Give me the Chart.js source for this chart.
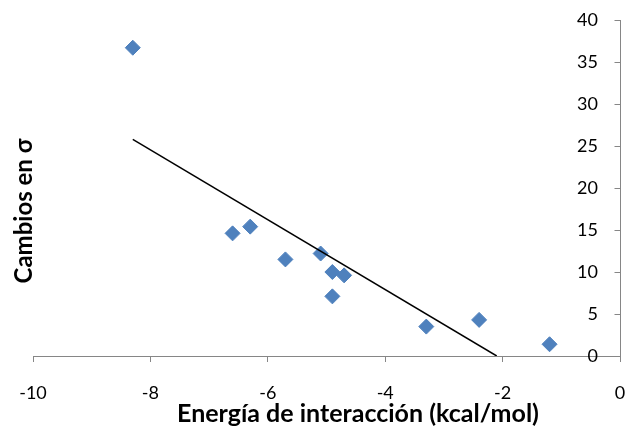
<!DOCTYPE html>
<html>
<head>
<meta charset="utf-8">
<script src="https://cdn.jsdelivr.net/npm/chart.js@4/dist/chart.umd.min.js"></script>
<style>
html,body{margin:0;padding:0;background:#fff;}
canvas{display:block;}
</style>
</head>
<body>
<canvas id="c" width="629" height="427"></canvas>
<script>
// Data
const energia = [-8.3, -6.6, -6.3, -5.7, -5.1, -4.9, -4.7, -4.9, -3.3, -2.4, -1.2];
const cambios = [36.7, 14.6, 15.4, 11.5, 12.2, 10.0, 9.6, 7.1, 3.5, 4.3, 1.4];
const trendX = [-8.3, -2.1];
const trendY = [25.8, 0];
const xTicks = [-10, -8, -6, -4, -2, 0];
const yTicks = [0, 5, 10, 15, 20, 25, 30, 35, 40];
const xTitle = 'Energía de interacción (kcal/mol)';
const yTitle = 'Cambios en σ';

const axisGray = '#868686';
const FONT = 'Lato, "Open Sans", sans-serif';

const decor = {
  id: 'decor',
  afterDraw(chart) {
    const ctx = chart.ctx;
    const y = chart.scales.y;
    const x = chart.scales.x;
    ctx.save();
    // inward tick marks on the right-hand y axis
    ctx.strokeStyle = axisGray;
    ctx.lineWidth = 1;
    const ax = Math.round(x.getPixelForValue(0)) + 0.5;
    yTicks.forEach(v => {
      const py = Math.round(y.getPixelForValue(v)) + 0.5;
      ctx.beginPath();
      ctx.moveTo(ax - 6, py);
      ctx.lineTo(ax, py);
      ctx.stroke();
    });
    // axis titles
    ctx.fillStyle = '#000';
    ctx.textAlign = 'center';
    ctx.textBaseline = 'alphabetic';
    ctx.font = 'bold 25px ' + FONT;
    ctx.fillText(xTitle, 358, 422);
    ctx.font = 'bold 24px ' + FONT;
    ctx.translate(32, 211);
    ctx.rotate(-Math.PI / 2);
    ctx.fillText(yTitle, 0, 0);
    ctx.restore();
  }
};

new Chart(document.getElementById('c'), {
  type: 'scatter',
  data: {
    datasets: [
      {
        label: 'datos',
        data: energia.map((v, i) => ({x: v, y: cambios[i]})),
        pointStyle: 'rectRot',
        pointRadius: 7.5,
        pointHoverRadius: 7.5,
        backgroundColor: '#4F81BD',
        borderColor: '#4F81BD',
        borderWidth: 1,
        order: 1
      },
      {
        label: 'tendencia',
        type: 'line',
        data: trendX.map((v, i) => ({x: v, y: trendY[i]})),
        borderColor: '#000',
        borderWidth: 1.5,
        pointRadius: 0,
        fill: false,
        order: 0
      }
    ]
  },
  options: {
    responsive: false,
    animation: false,
    devicePixelRatio: 1,
    layout: {padding: {left: 33, top: 20, right: 0, bottom: 0}},
    plugins: {legend: {display: false}, tooltip: {enabled: false}},
    scales: {
      x: {
        type: 'linear',
        position: 'bottom',
        min: -10, max: 0,
        afterBuildTicks: s => { s.ticks = xTicks.map(v => ({value: v})); },
        afterFit: s => { s.height = 71; s.paddingLeft = 0; s.paddingRight = 0; },
        grid: {drawOnChartArea: false, drawTicks: true, tickLength: 6, color: axisGray},
        border: {color: axisGray, width: 1},
        ticks: {color: '#000', font: {family: FONT, size: 18}, padding: 20, maxRotation: 0, autoSkip: false}
      },
      y: {
        type: 'linear',
        position: 'right',
        min: 0, max: 40,
        afterBuildTicks: s => { s.ticks = yTicks.map(v => ({value: v})); },
        afterFit: s => { s.width = 9; s.paddingTop = 0; s.paddingBottom = 0; },
        grid: {drawOnChartArea: false, drawTicks: false, color: axisGray},
        border: {color: axisGray, width: 1},
        ticks: {mirror: true, color: '#000', font: {family: FONT, size: 18}, padding: -22, autoSkip: false}
      }
    }
  },
  plugins: [decor]
});
</script>
</body>
</html>
